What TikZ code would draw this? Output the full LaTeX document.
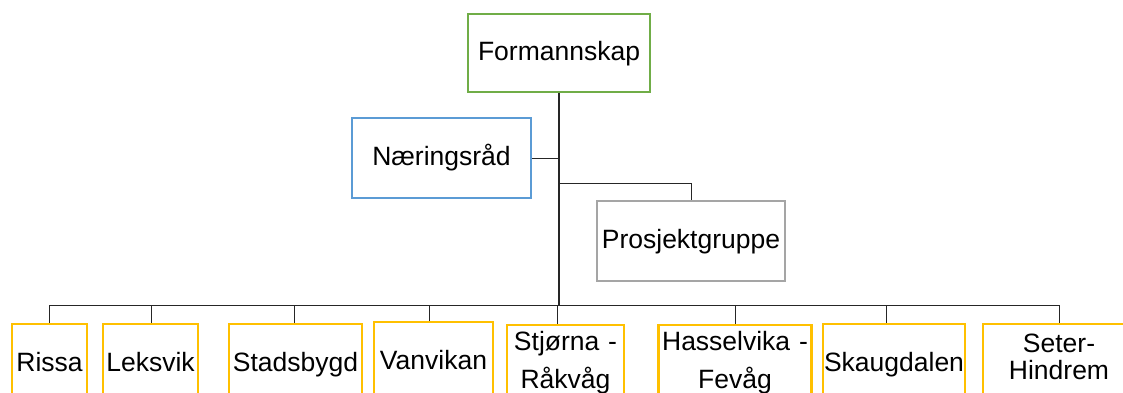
\documentclass[tikz,border=0pt]{standalone}
\usepackage{fontspec}
\setmainfont{Liberation Sans}
\definecolor{cgreen}{HTML}{70AD47}
\definecolor{cblue}{HTML}{5B9BD5}
\definecolor{cgray}{HTML}{A5A5A5}
\definecolor{cgold}{HTML}{FFC000}
\definecolor{cline}{HTML}{262626}
\tikzset{
  box/.style={draw, line width=2pt, rectangle, inner sep=0pt, align=center,
    font=\fontsize{26.5}{38}\selectfont, text height=19pt, text depth=4pt},
  unit/.style={box, draw=cgold, line width=2.5pt, minimum height=80pt},
  twoline/.style={text depth=49pt},
  conn/.style={draw=cline, line width=1pt},
  trunk/.style={draw=cline, line width=1.8pt},
}
\begin{document}
\begin{tikzpicture}[x=1pt,y=-1pt]
\useasboundingbox (0,0) rectangle (1123,392);
\clip (0,0) rectangle (1123,392);
\fill[white] (0,0) rectangle (1123,392);
% top
\node[box, draw=cgreen, minimum width=182pt, minimum height=78pt] (form) at (559,52.5) {Formannskap};
\node[box, draw=cblue, minimum width=179pt, minimum height=80pt] (naer) at (441.5,158) {Næringsråd};
\node[box, draw=cgray, minimum width=188pt, minimum height=80pt] (pros) at (691,241) {Prosjektgruppe};
% units (top edge at y~324, height 80)
\node[unit, minimum width=75pt] (rissa) at (49.5,364) {Rissa};
\node[unit, minimum width=95pt] (leks) at (150.5,364) {Leksvik};
\node[unit, minimum width=133pt] (stad) at (295.5,364) {Stadsbygd};
\node[unit, minimum width=119pt] (vanv) at (433.5,362) {Vanvikan};
\node[unit, twoline, text width=117pt, minimum width=117pt] (stj) at (565.5,365) {Stjørna -\\Råkvåg};
\node[unit, twoline, text width=153pt, minimum width=153pt] (hass) at (735,365) {Hasselvika -\\Fevåg};
\node[unit, minimum width=142pt] (skau) at (894,364) {Skaugdalen};
\node[unit, text width=152pt, minimum width=152pt, text depth=43pt,
  font=\fontsize{26.5}{27}\selectfont] (seter) at (1059,364) {Seter-\\Hindrem};
% connectors
\coordinate (busL) at (49,305);
\coordinate (busR) at (1059,305);
\coordinate (pj) at (559,183);
\draw[trunk] (form.south) -- (form.south |- busL);
\draw[conn] (naer.east) -- (naer.east -| form.south);
\draw[conn] (pj) -| (pros.north);
\draw[conn] (busL) -- (busR);
\draw[conn] (busL) -- (rissa.north -| busL);
\draw[conn] (151,305) -- (leks.north -| 151,0);
\draw[conn] (294,305) -- (stad.north -| 294,0);
\draw[conn] (429,305) -- (vanv.north -| 429,0);
\draw[conn] (557,305) -- (stj.north -| 557,0);
\draw[conn] (hass.north |- busL) -- (hass.north);
\draw[conn] (886,305) -- (skau.north -| 886,0);
\draw[conn] (busR) -- (seter.north -| busR);
\end{tikzpicture}
\end{document}
